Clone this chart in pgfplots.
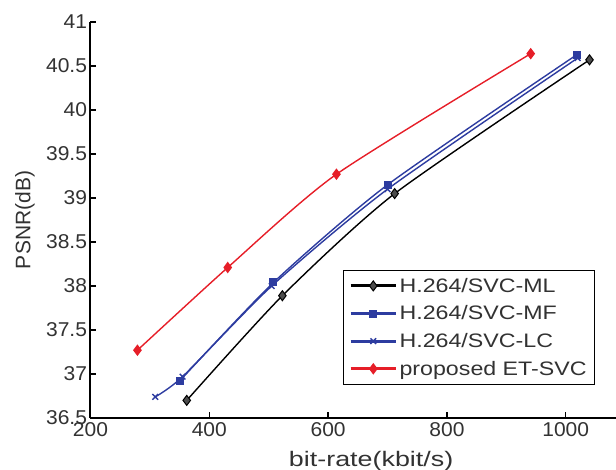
\documentclass[border=0pt]{standalone}
\usepackage{pgfplots}
\pgfplotsset{compat=1.18}
\usepackage{fontspec}
\setmainfont{Liberation Sans}
\newfontfamily\legfont{Liberation Sans}[FakeStretch=1.19]
\newfontfamily\xlabfont{Liberation Sans}[FakeStretch=1.28]
\newfontfamily\tickfont{Liberation Sans}[FakeStretch=1.05]
\definecolor{mblue}{RGB}{45,60,160}
\definecolor{mred}{RGB}{230,30,40}
\definecolor{txt}{RGB}{50,50,50}
\begin{document}
\begin{tikzpicture}
\begin{axis}[
  name=ax,
  scale only axis,
  width=525.5pt, height=396pt,
  xmin=200, xmax=1084.6, ymin=36.5, ymax=41,
  axis x line*=bottom, axis y line*=left,
  axis line style={line width=2pt, -},
  xtick={200,400,600,800,1000},
  ytick={36.5,37,37.5,38,38.5,39,39.5,40,40.5,41},
  yticklabels={36.5,37,37.5,38,38.5,39,39.5,40,40.5,41},
  xticklabels={200,400,600,800,1000},
  tick align=inside,
  major tick length=6pt,
  tick style={line width=1.5pt, black},
  ticklabel style={font=\tickfont\fontsize{20}{22}\selectfont, text=txt},
  xticklabel style={yshift=-1pt},
  /pgf/number format/assume math mode=true,
  xlabel={\xlabfont bit-rate(kbit/s)},
  ylabel={PSNR(dB)},
  xlabel style={font=\fontsize{21}{24}\selectfont, text=txt,
    at={(axis description cs:0.534,-0.1086)}, anchor=center},
  ylabel style={font=\fontsize{21}{24}\selectfont, text=txt,
    at={(axis description cs:-0.1246,0.5)}, anchor=center, rotate=0},
  legend style={at={(0.96,0.0833)}, anchor=south east, draw=black, line width=0.8pt,
    font=\legfont\fontsize{19.5}{24}\selectfont, text=txt, row sep=8pt,
    inner xsep=6pt, inner ysep=6pt},
  legend cell align=left,
  legend image code/.code={
    \draw[mark repeat=2,mark phase=2,#1, line width=3pt]
      plot coordinates {(0cm,0cm) (0.8cm,0cm) (1.6cm,0cm)};
  },
]
\addplot[black, line width=1.4pt, smooth, tension=0.4, mark=diamond*, mark size=5pt, mark options={line width=1pt, fill=black!70}]
  coordinates {(362,36.70) (523,37.89) (712,39.05) (1040,40.57)};
\addlegendentry{H.264/SVC-ML}
\addplot[mblue, line width=1.4pt, smooth, tension=0.4, mark=square*, mark size=3.5pt, mark options={line width=1pt}]
  coordinates {(350,36.92) (508,38.04) (700,39.15) (1019,40.63)};
\addlegendentry{H.264/SVC-MF}
\addplot[mblue, line width=1.4pt, smooth, tension=0.4, mark=x, mark size=4pt, mark options={line width=1.4pt}]
  coordinates {(309,36.74) (355,36.97) (505,38.00) (700,39.10) (1020,40.59)};
\addlegendentry{H.264/SVC-LC}
\addplot[mred, line width=1.4pt, smooth, tension=0.4, mark=diamond*, mark size=5pt, mark options={line width=1pt}]
  coordinates {(279,37.27) (431,38.21) (614,39.27) (941,40.64)};
\addlegendentry{proposed ET-SVC}
\end{axis}
\pgfresetboundingbox
\path[use as bounding box] ([xshift=-90.5pt,yshift=-52pt]ax.south west) rectangle ([yshift=22pt]ax.north east);
\end{tikzpicture}
\end{document}
